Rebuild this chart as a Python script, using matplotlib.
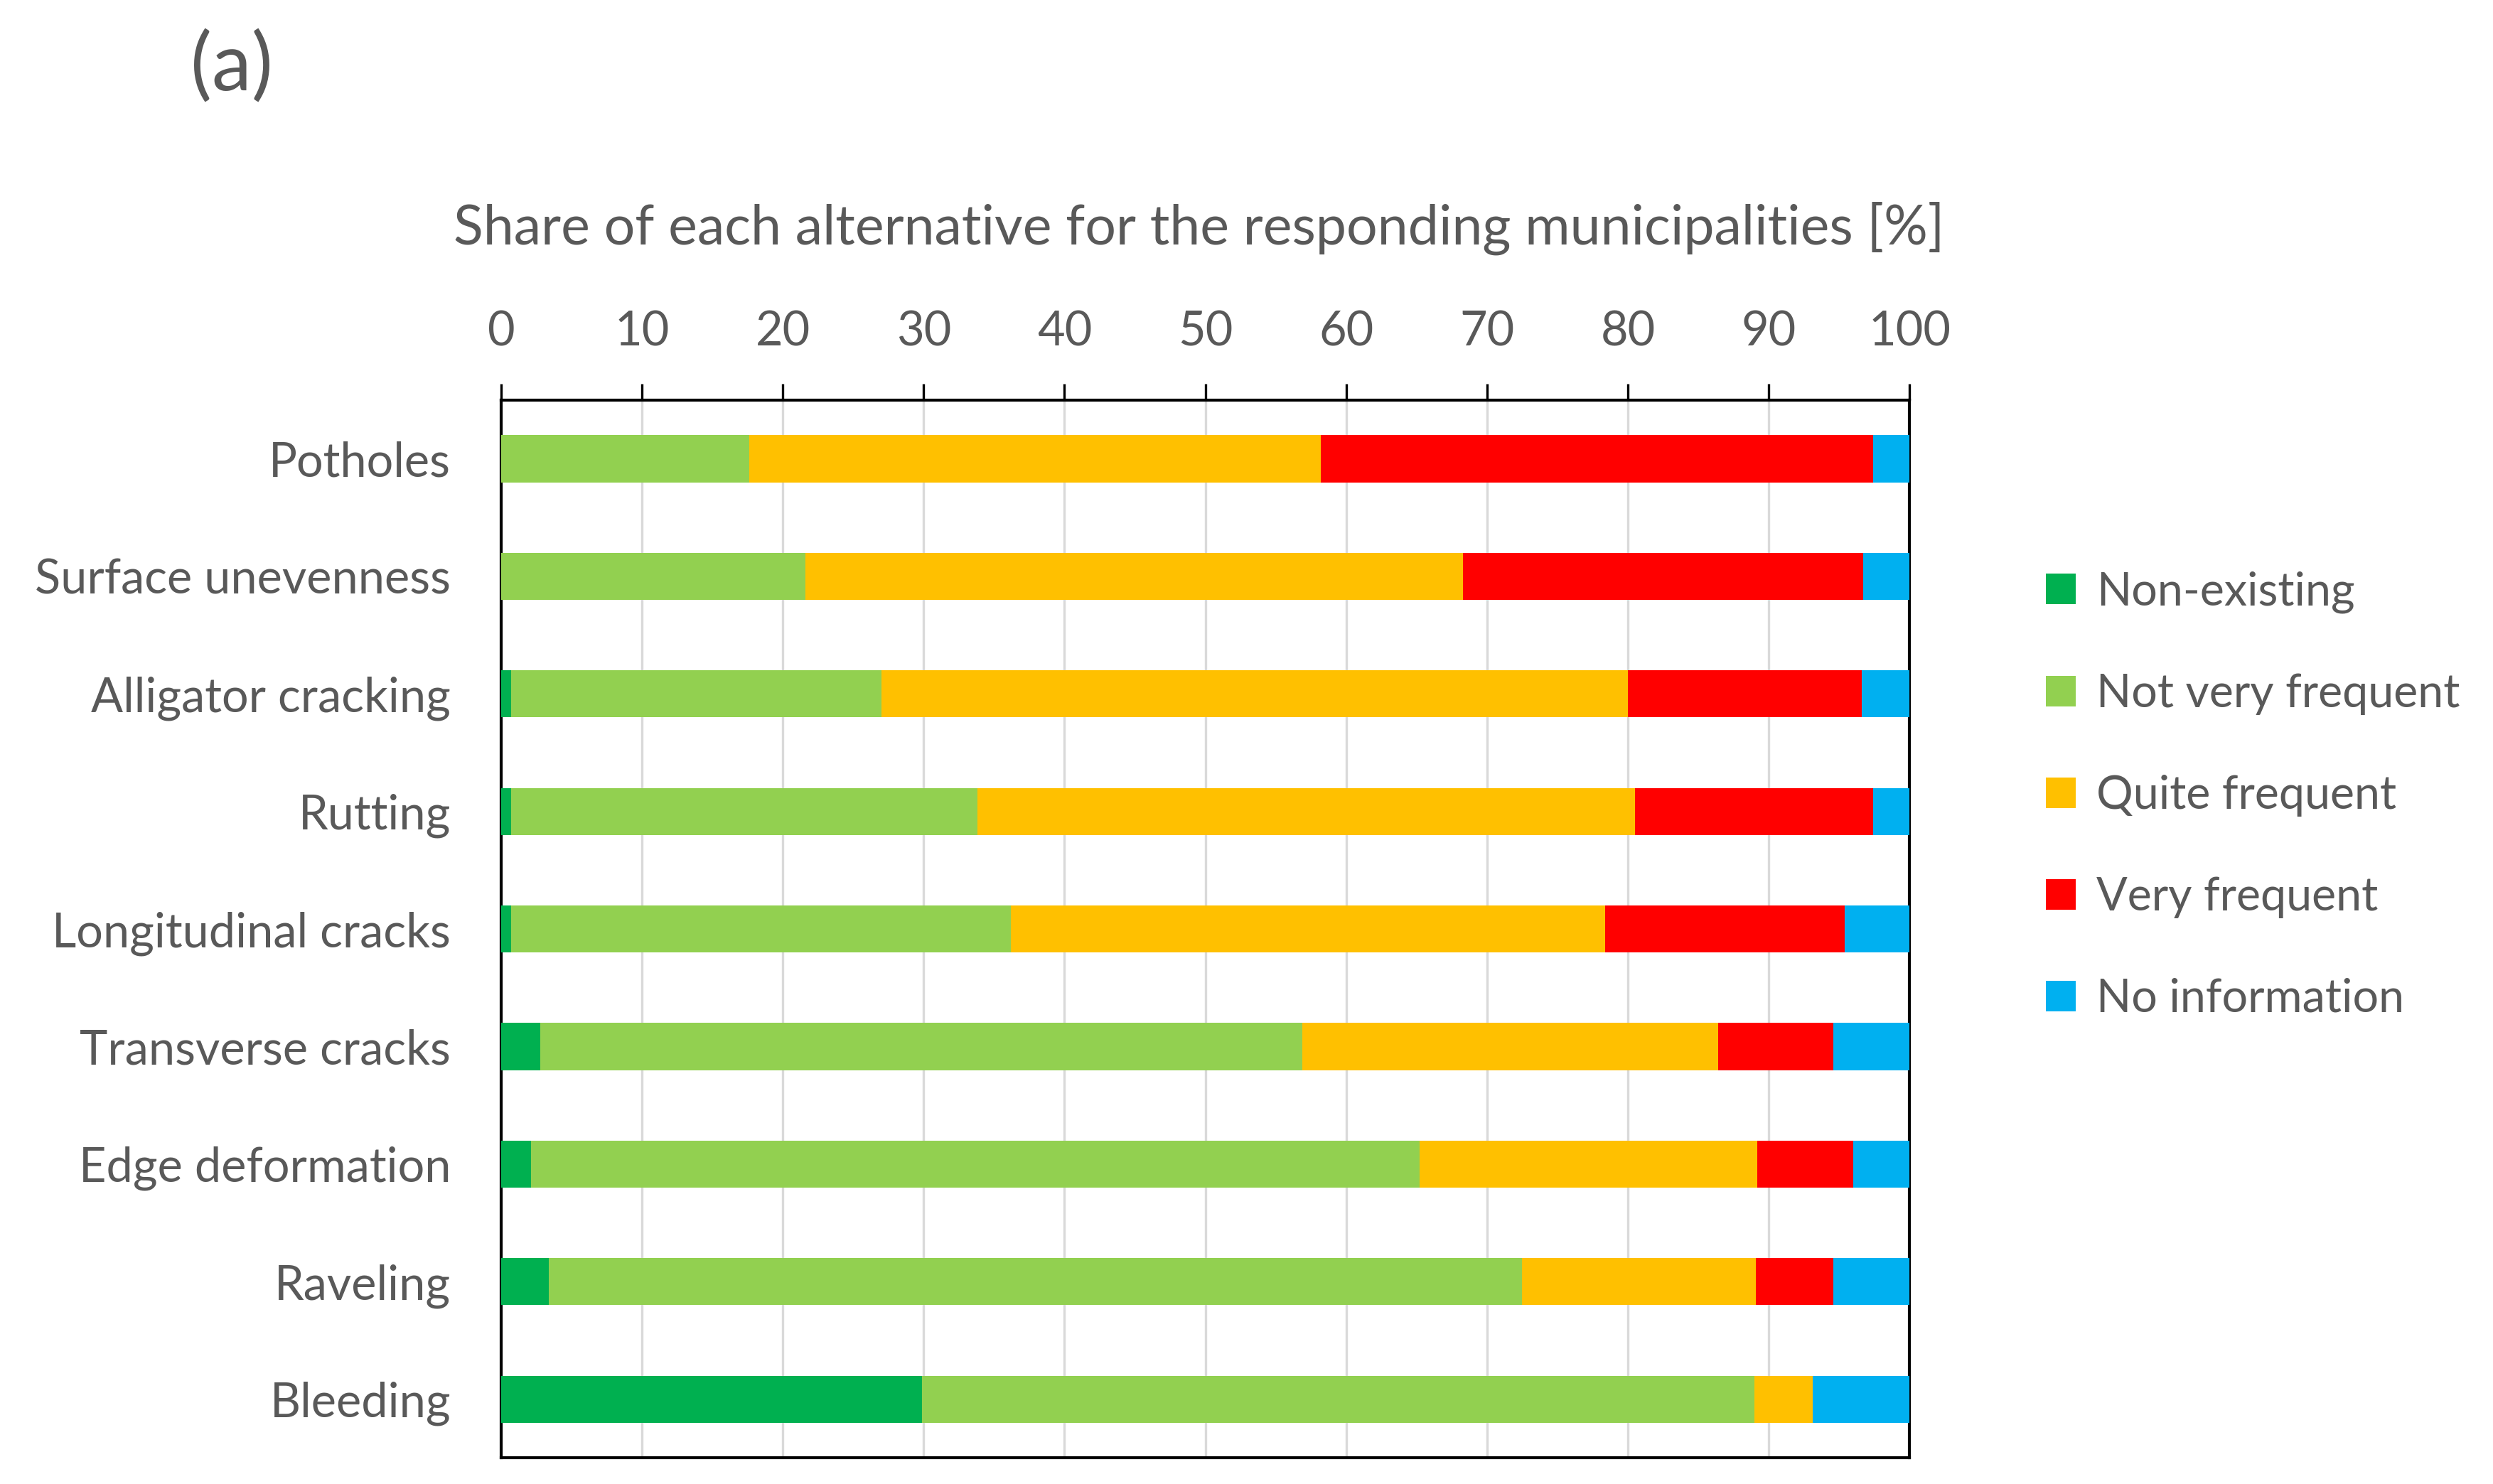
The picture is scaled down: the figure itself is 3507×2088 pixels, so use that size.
import matplotlib
matplotlib.use('Agg')
import matplotlib.pyplot as plt
import numpy as np

categories = ["Potholes", "Surface unevenness", "Alligator cracking", "Rutting",
              "Longitudinal cracks", "Transverse cracks", "Edge deformation",
              "Raveling", "Bleeding"]
series_names = ["Non-existing", "Not very frequent", "Quite frequent",
                "Very frequent", "No information"]
# segment widths (percent)
non_existing = [0.0, 0.0, 0.7, 0.7, 0.7, 2.8, 2.1, 3.4, 29.9]
not_very = [17.6, 21.6, 26.3, 33.1, 35.5, 54.1, 63.1, 69.1, 59.1]
quite = [40.6, 46.7, 53.0, 46.7, 42.2, 29.5, 24.0, 16.6, 4.1]
very = [39.2, 28.4, 16.6, 16.9, 17.0, 8.2, 6.8, 5.5, 0.0]
no_info = [2.6, 3.3, 3.4, 2.6, 4.6, 5.4, 4.0, 5.4, 6.9]

colors = ["#00B050", "#92D050", "#FFC000", "#FF0000", "#00B0F0"]
text_col = "#595959"

plt.rcParams['font.family'] = ['Lato', 'DejaVu Sans']

fig = plt.figure(figsize=(11.69, 6.96), dpi=300)
ax = fig.add_axes([0.201, 0.0175, 0.565, 0.713])

y = np.arange(len(categories))
left = np.zeros(len(categories))
for name, vals, col in zip(series_names, [non_existing, not_very, quite, very, no_info], colors):
    vals = np.array(vals)
    ax.barh(y, vals, left=left, height=0.4, color=col, label=name, zorder=3)
    left += vals

ax.set_xlim(0, 100)
ax.set_ylim(len(categories) - 0.5, -0.5)
ax.set_yticks(y)
ax.set_yticklabels(categories)
ax.set_xticks(np.arange(0, 101, 10))
ax.xaxis.tick_top()
ax.tick_params(axis='x', direction='out', length=5.5, width=0.8, pad=10,
               labelsize=16, labelcolor=text_col, color='black')
ax.tick_params(axis='y', length=0, pad=17, labelsize=16, labelcolor=text_col)
ax.grid(axis='x', color='#d9d9d9', lw=0.8, zorder=0)
for s in ax.spines.values():
    s.set_color('black')
    s.set_linewidth(1.0)

fig.text(0.481, 0.846, "Share of each alternative for the responding municipalities [%]",
         ha='center', va='center', fontsize=18.5, color=text_col)
fig.text(0.0764, 0.955, "(a)", ha='left', va='center', fontsize=27, color=text_col)

handles, labels = ax.get_legend_handles_labels()
leg = fig.legend(handles, labels, loc='center left', bbox_to_anchor=(0.804, 0.464),
                 frameon=False, fontsize=15.5, labelcolor=text_col,
                 handlelength=0.65, handleheight=0.65, handletextpad=0.45,
                 labelspacing=1.3)

plt.savefig("out.png", dpi=300)
